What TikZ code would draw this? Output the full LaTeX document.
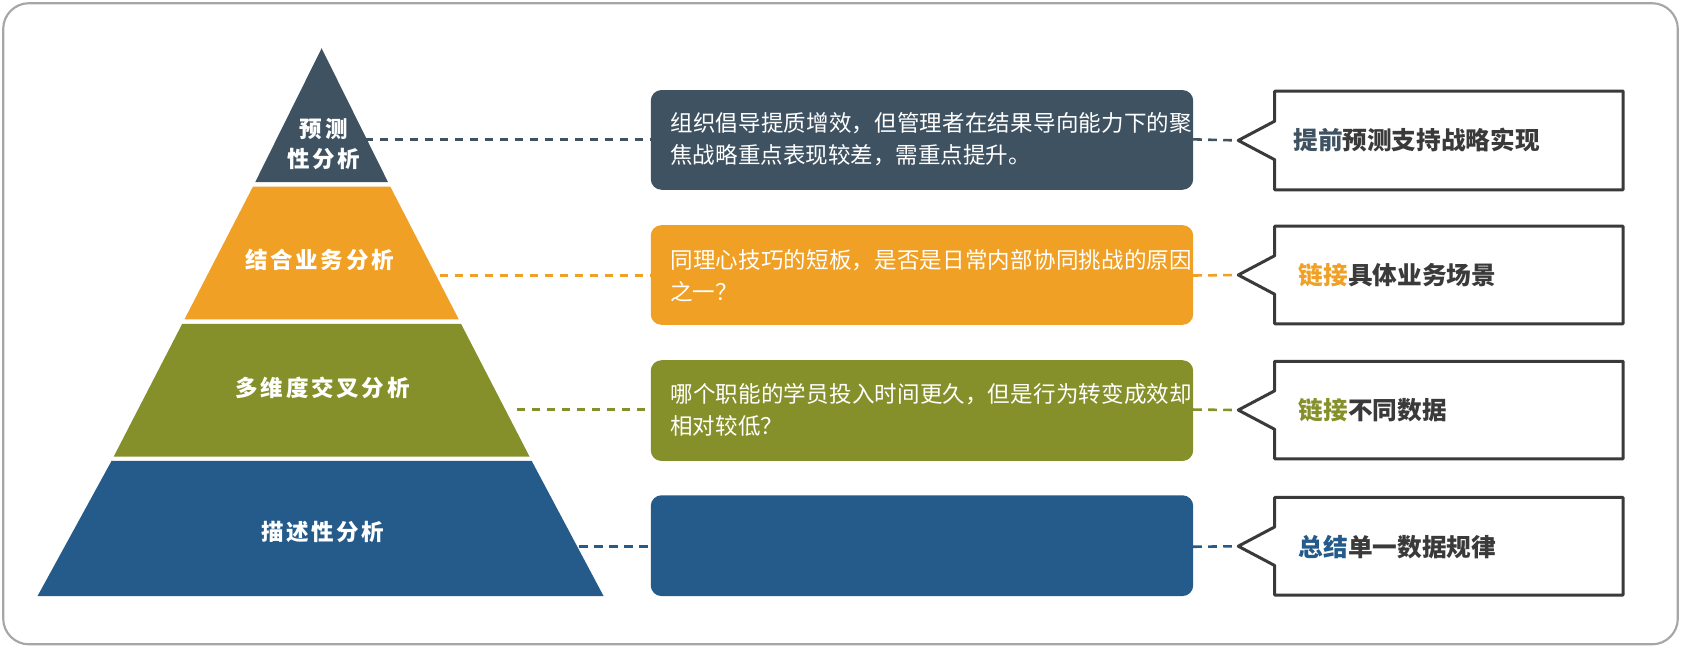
\documentclass[tikz,border=0pt]{standalone}
\usepackage{fontspec}
\newfontfamily\cjk{Noto Sans CJK SC}
\newfontfamily\cjkw[LetterSpace=12]{Noto Sans CJK SC}
\XeTeXlinebreaklocale "zh"
\XeTeXlinebreakskip=0pt plus 1pt
\definecolor{cA}{HTML}{3F5262}
\definecolor{cB}{HTML}{F0A024}
\definecolor{cC}{HTML}{86902B}
\definecolor{cD}{HTML}{245B8A}
\definecolor{bd}{HTML}{3A3A3A}
\begin{document}
\begin{tikzpicture}[x=0.5pt,y=-0.5pt,font=\cjk,
 mid/.style={rounded corners=5pt,inner sep=0pt},
 midtxt/.style={text=white,font=\cjk\fontsize{10.5}{15}\selectfont,align=left,text width=245pt,anchor=west,inner sep=0pt},
 conn/.style={dashed,dash pattern=on 4pt off 3pt,line width=1.2pt},
 call/.style={draw=bd,line width=1.4pt,fill=white,line join=round},
 calltxt/.style={font=\cjk\bfseries\fontsize{11.5}{14}\selectfont,text=bd,anchor=west,inner sep=0pt},
 ptxt/.style={text=white,font=\cjkw\bfseries\fontsize{10.5}{14}\selectfont,align=center}]
\useasboundingbox (0,0) rectangle (1568,604);
\draw[gray!70,line width=1pt,rounded corners=12pt] (3,3) rectangle (1565,601);
% pyramid bands
\fill[cA] (300,45) -- (362,170) -- (238,170) -- cycle;
\fill[cB] (236,174) -- (364,174) -- (428,298) -- (172,298) -- cycle;
\fill[cC] (170,302) -- (430,302) -- (494,426) -- (106,426) -- cycle;
\fill[cD] (104,430) -- (496,430) -- (563,556) -- (35,556) -- cycle;
\node[ptxt] (p1) at (302,134) {预测\\性分析};
\node[ptxt] (p2) at (298,242) {结合业务分析};
\node[ptxt] (p3) at (301,362) {多维度交叉分析};
\node[ptxt] (p4) at (301,496) {描述性分析};
\coordinate (e1) at (340,130); \coordinate (e2) at (410,257);
\coordinate (e3) at (482,382); \coordinate (e4) at (540,510);
% middle boxes
\fill[cA,mid] (607,84) rectangle (1113,177); \coordinate (m1l) at (607,130); \coordinate (m1r) at (1113,130);
\fill[cB,mid] (607,210) rectangle (1113,303); \coordinate (m2l) at (607,257); \coordinate (m2r) at (1113,257);
\fill[cC,mid] (607,336) rectangle (1113,430); \coordinate (m3l) at (607,382); \coordinate (m3r) at (1113,382);
\fill[cD,mid] (607,462) rectangle (1113,556); \coordinate (m4l) at (607,510); \coordinate (m4r) at (1113,510);
\node[midtxt] (t1) at (625,130) {组织倡导提质增效，但管理者在结果导向能力下的聚焦战略重点表现较差，需重点提升。};
\node[midtxt] (t2) at (625,257) {同理心技巧的短板，是否是日常内部协同挑战的原因之一？};
\node[midtxt] (t3) at (625,382) {哪个职能的学员投入时间更久，但是行为转变成效却相对较低？};
% callouts
\foreach \i/\t/\b in {1/85/177,2/211/302,3/337/428,4/464/555}{
  \pgfmathsetmacro\c{(\t+\b)/2}
  \draw[call] (1189,\t) -- (1514,\t) -- (1514,\b) -- (1189,\b) -- (1189,\c+18) -- (1155,\c) -- (1189,\c-18) -- cycle;
  \coordinate (k\i) at (1155,\c);
}
\node[calltxt] (c1) at (1206,131) {\textcolor{cA}{提前}预测支持战略实现};
\node[calltxt] (c2) at (1211,257) {\textcolor{cB}{链接}具体业务场景};
\node[calltxt] (c3) at (1211,383) {\textcolor{cC}{链接}不同数据};
\node[calltxt] (c4) at (1211,510) {\textcolor{cD}{总结}单一数据规律};
\draw[conn,cA] (e1) -- (m1l); \draw[conn,cA] (m1r) -- (k1);
\draw[conn,cB] (e2) -- (m2l); \draw[conn,cB] (m2r) -- (k2);
\draw[conn,cC] (e3) -- (m3l); \draw[conn,cC] (m3r) -- (k3);
\draw[conn,cD] (e4) -- (m4l); \draw[conn,cD] (m4r) -- (k4);
\end{tikzpicture}
\end{document}
